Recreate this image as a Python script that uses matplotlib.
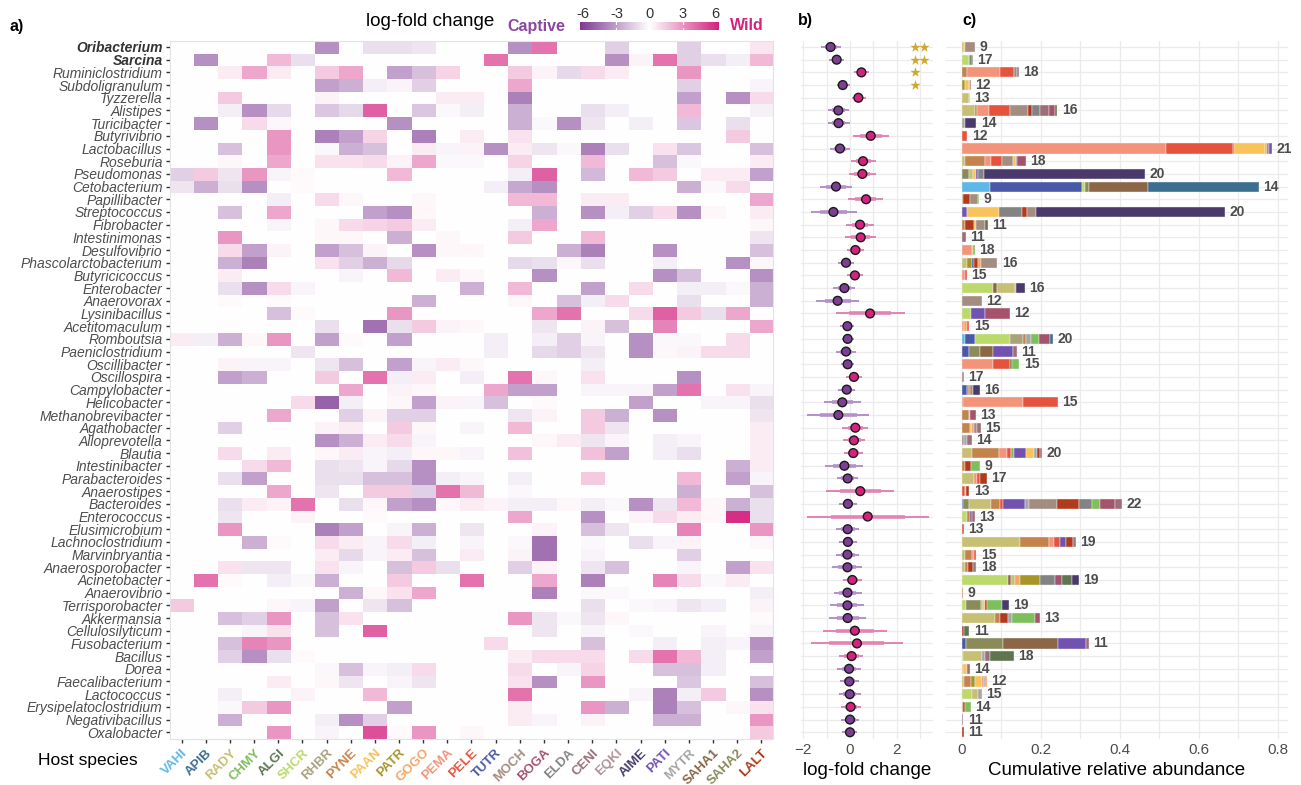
import numpy as np
import matplotlib
matplotlib.use("Agg")
import matplotlib.pyplot as plt
from matplotlib.colors import LinearSegmentedColormap, TwoSlopeNorm

plt.rcParams['font.family'] = ['Liberation Sans', 'DejaVu Sans']

W, H = 1301, 785

# ---------------------------------------------------------------- #
# Host species (heatmap columns) and their colours
hosts = ["VAHI", "APIB", "RADY", "CHMY", "ALGI", "SHCR", "RHBR", "PYNE",
         "PAAN", "PATR", "GOGO", "PEMA", "PELE", "TUTR", "MOCH", "BOGA",
         "ELDA", "CENI", "EQKI", "AIME", "PATI", "MYTR", "SAHA1", "SAHA2",
         "LALT"]
host_colors = ["#5BB8E8", "#3C6E8F", "#C7BF73", "#7DBF5A", "#5E7550",
               "#BCD96B", "#A9A27D", "#C4834C", "#F8C35A", "#A8952A",
               "#F6A564", "#F3937A", "#E5533D", "#4A59A7", "#A38C80",
               "#A5536D", "#838383", "#9C6E78", "#B0949A", "#4A3A6C",
               "#7152B1", "#A5A5A5", "#8C6646", "#8B8B5A", "#B23A1C"]

# Bacterial genera (rows, top to bottom)
genera = ["Oribacterium", "Sarcina", "Ruminiclostridium", "Subdoligranulum",
          "Tyzzerella", "Alistipes", "Turicibacter", "Butyrivibrio",
          "Lactobacillus", "Roseburia", "Pseudomonas", "Cetobacterium",
          "Papillibacter", "Streptococcus", "Fibrobacter", "Intestinimonas",
          "Desulfovibrio", "Phascolarctobacterium", "Butyricicoccus",
          "Enterobacter", "Anaerovorax", "Lysinibacillus", "Acetitomaculum",
          "Romboutsia", "Paeniclostridium", "Oscillibacter", "Oscillospira",
          "Campylobacter", "Helicobacter", "Methanobrevibacter",
          "Agathobacter", "Alloprevotella", "Blautia", "Intestinibacter",
          "Parabacteroides", "Anaerostipes", "Bacteroides", "Enterococcus",
          "Elusimicrobium", "Lachnoclostridium", "Marvinbryantia",
          "Anaerosporobacter", "Acinetobacter", "Anaerovibrio",
          "Terrisporobacter", "Akkermansia", "Cellulosilyticum",
          "Fusobacterium", "Bacillus", "Dorea", "Faecalibacterium",
          "Lactococcus", "Erysipelatoclostridium", "Negativibacillus",
          "Oxalobacter"]
bold_genera = ["Oribacterium", "Sarcina"]

# a) per-host log-fold change (wild vs captive), {host column: value}
lfc_cells = [
    {6: -3.5, 8: -1, 9: -1, 10: -0.8, 14: -3.5, 15: 4, 18: -1.5, 21: -1.5, 24: 0.7},
    {1: -3.5, 4: 2, 5: -1, 13: 4, 18: -3.5, 19: 0.3, 20: 4, 21: -1.5, 22: -1, 23: -0.5, 24: 2},
    {2: 0.5, 3: 2.5, 4: 0.5, 6: 1.5, 7: 2.5, 9: -3, 10: -2, 11: 1.2, 14: 1.5, 15: 0.3, 16: -1.2, 17: 1, 18: 0.5, 21: 3},
    {6: -3, 7: -2.5, 8: -0.5, 9: -0.3, 10: -1.5, 14: 2.5, 21: -1.5, 24: -0.3},
    {2: 1.5, 6: 0.3, 11: 0.5, 12: 0.5, 14: -4, 21: -3, 23: -3.5, 24: 1},
    {2: -0.5, 3: -3.5, 4: -1.2, 6: -1.8, 7: -1.2, 8: 4.5, 10: -1.8, 11: -0.2, 12: -0.5, 14: -2.5, 17: -1, 18: -0.5, 21: 2, 24: -0.4},
    {1: -3.5, 3: 1, 4: 0.2, 9: -3.5, 14: -2.5, 15: -0.2, 16: -3.5, 17: -0.8, 19: -0.5, 21: -1.8, 23: -1},
    {4: 3, 6: -4, 7: -3, 8: 1.2, 10: -4, 12: 0.5, 14: 0.8, 23: 1.5},
    {2: -2, 4: 3, 6: -0.2, 7: -2.5, 8: -2, 10: 0.5, 11: -0.3, 12: 0.3, 13: -3.5, 14: 0.5, 15: -0.8, 16: -0.2, 17: -4, 18: -1, 20: 0.8, 21: -1.8, 24: -2},
    {2: 0.2, 4: 2.5, 6: 0.8, 7: 0.8, 8: 1, 9: 0.3, 10: 2.5, 11: -0.2, 12: -0.2, 14: 1.2, 17: 2, 20: -2, 21: -0.2, 24: 0.5},
    {0: -1.5, 1: 1.5, 2: -0.8, 3: 3, 4: -0.3, 5: 0.1, 9: 2, 14: -0.5, 15: 4.5, 17: -2.2, 19: 2, 20: 1.5, 22: 0.5, 23: 0.5, 24: -3},
    {0: -0.8, 1: -2.5, 2: -1, 3: -3.5, 5: 0.1, 13: -0.5, 14: -2.8, 15: -3.5, 21: -2.5, 22: -0.2, 23: 1},
    {4: -0.5, 6: 1, 7: 0.2, 10: 0.2, 14: 2, 15: 2, 17: 0.5, 18: 0.5, 24: 2.5},
    {2: -2, 4: 2.5, 8: -3, 9: -3.5, 10: 0.2, 15: -2.5, 17: -3.5, 18: -0.5, 19: -1.5, 20: 1, 21: -3.5, 22: 0.2, 24: 0.5},
    {4: -0.3, 6: 0.2, 7: 1, 8: 1.2, 9: 1.5, 10: 0.5, 14: -0.5, 15: 2.5, 24: 0.2},
    {2: 3, 6: 0.2, 7: 0.2, 9: -2.5, 11: 0.2, 14: 1.5, 17: 2, 24: -0.8},
    {2: 1, 3: -3, 4: 0.3, 6: -3, 7: -2, 8: 0.3, 10: -3.5, 11: 0.2, 12: 0.2, 16: -2.5, 17: -4, 20: -3.5, 24: -2},
    {2: -2.5, 3: -4, 6: 0.8, 7: -1.5, 8: -2.5, 9: -1.2, 14: -1.2, 15: -1, 16: 0.2, 17: -1, 20: -0.5, 23: -3.5, 24: 0.2},
    {2: 0.5, 7: -0.3, 9: 2, 11: 0.5, 12: 0.2, 15: -3.5, 20: -3.5, 21: -2, 24: -3.5},
    {2: -1, 3: -3.5, 4: 1, 5: -0.3, 12: -2.5, 14: 2, 17: -3, 19: 1, 21: -0.5, 22: -0.5, 23: -0.2, 24: -2.5},
    {2: 0.1, 4: 0.1, 10: -2.5, 14: 0.2, 16: -2, 17: -0.5, 18: 1, 21: -1, 24: -2.5},
    {4: -2, 5: 0.1, 9: 3, 15: 2.5, 16: 4, 19: 1, 20: 4.5, 21: 1.5, 22: -1, 23: 2.5},
    {6: -1, 8: -4.5, 9: -1, 10: 1.5, 11: 0.3, 12: 0.2, 15: -0.8, 17: 0.3, 18: -2, 20: 3.5, 24: 2.5},
    {0: 0.5, 1: -0.5, 2: -2.5, 3: 0.2, 4: 3, 6: -3, 7: 0.1, 9: -3, 13: -0.5, 15: -0.5, 16: -1.5, 17: -0.3, 19: -3.5, 20: -0.2, 21: -0.2, 23: 1},
    {5: -0.8, 13: -0.5, 15: -1.2, 16: -1.5, 17: -0.8, 19: -3.5, 20: 0.2, 21: 0.3, 22: 1, 23: 1},
    {2: 0.3, 3: -0.3, 4: -0.3, 6: -0.8, 7: -2, 9: -3, 10: -0.3, 11: 0.5, 12: 0.2, 17: -0.5},
    {2: -3, 3: -2.5, 6: 1.5, 8: 4, 9: -0.5, 10: 0.5, 12: -0.5, 14: 4, 15: 0.2, 17: 0.8, 21: -3.5},
    {7: 2.5, 9: 0.3, 10: 0.2, 13: 2.5, 14: -3, 15: -3, 17: -0.3, 18: -0.3, 19: -0.3, 20: -3, 21: 4, 23: 0.8, 24: -0.3},
    {5: 1, 6: -5, 7: -0.5, 9: 0.2, 10: -3, 11: 0.3, 12: -0.3, 13: -2, 15: 0.1, 19: -3, 22: -0.3, 23: -0.3, 24: -1},
    {4: 2.5, 7: -1.5, 8: 0.3, 9: -1.5, 10: -1.5, 14: -0.8, 15: 0.3, 17: 1.5, 18: -2.5, 20: -3.5, 24: -0.8},
    {2: -1.5, 6: 0.3, 7: 0.5, 9: 1.5, 10: 0.2, 12: -0.3, 14: 2, 17: 1.5, 18: -0.8, 24: 0.5},
    {6: -3.5, 7: -2.5, 8: 0.5, 9: 1, 10: -0.3, 15: 0.2, 16: 0.5, 17: -0.8, 18: -0.3, 20: -0.5, 21: -0.3, 24: 0.5},
    {2: 1, 4: 0.5, 6: 0.2, 7: 0.5, 8: -0.3, 9: -0.5, 10: 0.2, 11: 0.2, 12: -0.3, 14: 1.8, 17: 1.8, 18: -3, 20: -0.5, 21: -1, 24: 0.5},
    {3: 1, 4: 2, 6: -1, 7: -0.8, 8: -0.3, 9: -1.2, 10: -3.5, 23: -2.5, 24: 0.5},
    {2: -1, 3: -3, 6: -1, 7: -1, 8: -2, 9: -2, 10: -3.5, 11: -0.5, 12: -0.3, 14: -0.5, 17: 1.5, 21: 2, 23: -3, 24: -0.3},
    {4: 2.5, 6: -0.8, 8: 1.5, 9: 1.5, 10: -1.5, 11: 4, 12: 2, 14: -0.2, 21: -2.5, 24: -2},
    {2: -1, 3: 0.5, 4: 0.3, 5: 4, 7: -1, 8: 0.2, 9: -3, 10: -3.5, 11: 0.2, 12: 0.5, 13: 0.3, 14: -0.5, 15: -0.5, 16: 0.2, 17: -0.5, 18: -0.2, 19: -3.5, 20: -0.8, 21: 2, 22: 0.2, 23: -2.5, 24: -1},
    {2: -0.8, 5: 0.3, 8: 0.1, 14: 2.5, 17: -3.5, 19: 0.3, 20: 1, 21: 0.5, 22: 0.2, 23: 6, 24: -1},
    {2: 3, 6: -4, 7: -3, 9: -0.3, 10: -2.5, 12: -0.8, 15: 0.3, 17: -2, 18: -0.8, 21: 3.5, 24: 3},
    {3: -2.5, 4: 0.1, 6: 1, 7: 0.5, 8: -0.3, 9: 1, 10: -0.5, 12: -0.3, 14: -0.2, 15: -4.5, 17: -0.2, 19: -1, 20: -0.3, 21: 0.3, 24: 0.2},
    {6: 0.5, 7: -1.2, 8: -0.3, 9: 0.5, 10: -2, 12: 0.5, 14: 0.3, 15: -4.5, 17: -0.3, 21: -1.5},
    {2: 0.8, 3: -0.8, 4: -0.8, 6: 0.8, 7: -0.3, 9: -2, 10: 1.5, 11: -1, 14: -1.5, 15: 0.3, 17: -0.8, 18: -2, 21: -0.3, 23: -3, 24: 0.8},
    {1: 4, 2: 0.1, 4: -0.5, 5: -0.2, 6: -2.5, 9: 1.5, 12: 4, 15: 2.5, 17: -4, 20: 3.5, 21: 1, 22: -0.2, 23: 0.5},
    {7: -2.5, 8: 0.2, 9: 0.8, 10: 2.5, 15: -4, 17: -0.2, 18: -0.2, 24: -0.5},
    {0: 1.5, 4: 0.2, 5: -0.3, 6: -3, 8: -0.8, 9: -2, 17: -1, 19: -0.2, 20: -0.3, 21: -0.8, 22: -0.5, 24: 0.3},
    {2: -2, 3: -1.5, 4: 3, 6: -2, 7: 0.8, 14: 3, 15: -0.8, 16: -0.2, 17: -0.8, 18: 0.2, 24: 0.1},
    {3: -0.3, 4: 0.8, 6: -2, 8: 4.5, 15: -0.8, 17: -0.3, 19: -0.2, 22: -0.3, 24: -0.3},
    {2: -2, 3: 3.5, 4: 3, 13: 1, 17: -2, 20: -0.5, 22: -0.5, 23: -0.3, 24: -3.5},
    {2: -1.5, 3: -3.5, 4: -1, 5: 0.1, 14: 0.5, 15: 1, 16: 1, 17: 1, 19: 1, 20: 4, 21: 2, 22: -0.5, 24: -3},
    {6: -0.2, 7: -2, 8: -0.3, 9: -0.5, 10: 1, 14: 1, 16: -0.3, 17: 1.2, 20: -2, 21: -2, 22: -0.5},
    {4: 0.5, 6: 0.2, 7: -0.8, 9: -0.3, 10: -0.8, 14: 0.8, 15: -3.5, 17: 3, 21: -1.8, 24: -2},
    {2: -0.5, 5: 0.3, 8: 2, 14: 4, 19: -0.3, 20: -4, 21: -0.5, 22: 1.5, 24: -3.5},
    {2: -0.2, 3: 1.5, 4: 3, 9: -3, 14: 0.5, 17: 3, 18: -2.5, 20: -4, 21: -2, 23: 0.2, 24: 0.8},
    {2: -2.5, 6: -0.5, 7: -3.5, 8: -1.5, 14: 0.5, 15: -0.3, 17: 0.3, 20: -2.5, 21: -2.5, 24: 3},
    {4: 3, 6: -0.3, 8: 5, 9: 0.1, 10: 3, 12: 0.2, 24: 1.5},
]

# b) pooled log-fold change with interval
lfc_mean = [-0.83, -0.57, 0.49, -0.31, 0.36, -0.50, -0.49, 0.89, -0.43, 0.56,
            0.53, -0.60, 0.69, -0.71, 0.43, 0.46, 0.23, -0.17, 0.21, -0.24,
            -0.53, 0.86, -0.11, -0.10, -0.17, -0.10, 0.17, -0.14, -0.33, -0.50,
            0.23, 0.17, 0.14, -0.24, -0.10, 0.44, -0.09, 0.76, -0.10, -0.09,
            -0.11, -0.11, 0.10, -0.11, -0.11, -0.10, 0.21, 0.30, 0.07, -0.04,
            -0.03, -0.01, 0.03, 0.00, 0.00]
lfc_low = [-1.26, -0.89, 0.17, -0.57, 0.07, -0.96, -0.96, 0.11, -0.86, 0.03,
           -0.03, -1.29, -0.07, -1.69, -0.17, -0.20, -0.14, -0.53, -0.14, -0.71,
           -1.46, -0.61, -0.43, -0.36, -0.61, -0.39, -0.17, -0.50, -1.10, -1.83,
           -0.33, -0.29, -0.26, -1.07, -0.57, -1.03, -0.46, -1.83, -0.60, -0.46,
           -0.60, -0.76, -0.31, -0.69, -0.86, -0.89, -1.14, -1.67, -0.46, -0.54,
           -0.43, -0.47, -0.39, -0.39, -0.33]
lfc_high = [-0.39, -0.24, 0.83, 0.00, 0.69, -0.03, 0.00, 1.69, 0.00, 1.11,
            1.11, 0.09, 1.43, 0.29, 1.03, 1.10, 0.60, 0.17, 0.57, 0.21,
            0.40, 2.36, 0.17, 0.17, 0.26, 0.17, 0.51, 0.21, 0.47, 0.83,
            0.79, 0.64, 0.57, 0.57, 0.36, 1.90, 0.31, 3.40, 0.40, 0.31,
            0.40, 0.51, 0.51, 0.50, 0.61, 0.69, 1.57, 2.26, 0.57, 0.47,
            0.40, 0.46, 0.46, 0.40, 0.31]
signif_stars = [2, 2, 1, 1]

# c) relative abundance per host (stacked) and number of hosts carrying the genus
abund_segments = [
    [("PATR", 0.003), ("PAAN", 0.006), ("MOCH", 0.024)],
    [("SHCR", 0.017), ("SAHA1", 0.005), ("ALGI", 0.003), ("ELDA", 0.003)],
    [("PYNE", 0.013), ("PEMA", 0.084), ("PELE", 0.034), ("MOCH", 0.009), ("ELDA", 0.005)],
    [("PATR", 0.007), ("PAAN", 0.010), ("PEMA", 0.004), ("CENI", 0.003)],
    [("RADY", 0.019), ("PAAN", 0.002)],
    [("RADY", 0.034), ("PYNE", 0.004), ("PEMA", 0.030), ("PELE", 0.053), ("MOCH", 0.046),
     ("LALT", 0.011), ("ELDA", 0.019), ("CENI", 0.024), ("BOGA", 0.014), ("ALGI", 0.007)],
    [("MYTR", 0.007), ("AIME", 0.030)],
    [("PELE", 0.014)],
    [("PEMA", 0.517), ("PELE", 0.170), ("TUTR", 0.003), ("PAAN", 0.079), ("GOGO", 0.005),
     ("ELDA", 0.005), ("PATI", 0.007)],
    [("RADY", 0.009), ("PYNE", 0.050), ("PEMA", 0.014), ("PELE", 0.030), ("MOCH", 0.027),
     ("PAAN", 0.007), ("ELDA", 0.003), ("BOGA", 0.022)],
    [("SAHA2", 0.019), ("RADY", 0.010), ("PAAN", 0.007), ("PATI", 0.006), ("ELDA", 0.013),
     ("AIME", 0.409)],
    [("VAHI", 0.072), ("TUTR", 0.232), ("SHCR", 0.008), ("SAHA2", 0.011), ("SAHA1", 0.149),
     ("APIB", 0.281)],
    [("PYNE", 0.004), ("LALT", 0.017), ("MOCH", 0.019), ("CHMY", 0.004)],
    [("PATI", 0.013), ("PAAN", 0.080), ("ELDA", 0.059), ("LALT", 0.014), ("MOCH", 0.022),
     ("AIME", 0.478)],
    [("PYNE", 0.008), ("LALT", 0.024), ("PAAN", 0.004), ("MOCH", 0.023), ("ALGI", 0.007)],
    [("CENI", 0.010)],
    [("PEMA", 0.025), ("GOGO", 0.003), ("CHMY", 0.006)],
    [("RADY", 0.013), ("PATR", 0.013), ("TUTR", 0.006), ("LALT", 0.008), ("GOGO", 0.008),
     ("MOCH", 0.042)],
    [("PEMA", 0.007), ("PELE", 0.006)],
    [("SHCR", 0.080), ("SAHA1", 0.008), ("RADY", 0.046), ("MYTR", 0.004), ("AIME", 0.021)],
    [("MOCH", 0.051)],
    [("SHCR", 0.023), ("PATI", 0.036), ("BOGA", 0.062)],
    [("PEMA", 0.006), ("GOGO", 0.007), ("PELE", 0.006)],
    [("VAHI", 0.008), ("TUTR", 0.025), ("SHCR", 0.089), ("RHBR", 0.032), ("PYNE", 0.008),
     ("MYTR", 0.014), ("CHMY", 0.019), ("BOGA", 0.028), ("APIB", 0.008)],
    [("TUTR", 0.017), ("SAHA2", 0.028), ("SAHA1", 0.035), ("PATI", 0.049), ("CENI", 0.010)],
    [("PEMA", 0.080), ("PELE", 0.042), ("SAHA1", 0.005), ("CHMY", 0.019)],
    [("MOCH", 0.006)],
    [("TUTR", 0.014), ("PYNE", 0.005), ("PATI", 0.003), ("MOCH", 0.007), ("AIME", 0.017)],
    [("PYNE", 0.003), ("PEMA", 0.152), ("PELE", 0.089)],
    [("PYNE", 0.017), ("GOGO", 0.004), ("BOGA", 0.015)],
    [("PYNE", 0.021), ("PAAN", 0.006), ("PEMA", 0.005), ("MOCH", 0.006), ("CENI", 0.010)],
    [("MOCH", 0.006), ("MYTR", 0.007), ("CENI", 0.013)],
    [("RADY", 0.025), ("PYNE", 0.068), ("PEMA", 0.021), ("PELE", 0.011), ("CHMY", 0.006),
     ("PATI", 0.032), ("PAAN", 0.021), ("MYTR", 0.007), ("LALT", 0.008), ("CENI", 0.005)],
    [("PYNE", 0.007), ("LALT", 0.017), ("CHMY", 0.023)],
    [("RADY", 0.032), ("PEMA", 0.006), ("PELE", 0.008), ("LALT", 0.018)],
    [("PELE", 0.007), ("PAAN", 0.004), ("LALT", 0.008)],
    [("TUTR", 0.004), ("SAHA2", 0.015), ("RADY", 0.055), ("PYNE", 0.023), ("PELE", 0.008),
     ("PATI", 0.055), ("MYTR", 0.011), ("MOCH", 0.071), ("LALT", 0.055), ("ELDA", 0.032),
     ("CHMY", 0.021), ("BOGA", 0.039), ("CENI", 0.017)],
    [("SHCR", 0.013), ("PYNE", 0.007), ("PATI", 0.006), ("CENI", 0.007)],
    [("PELE", 0.005)],
    [("RADY", 0.148), ("PYNE", 0.072), ("PEMA", 0.013), ("PELE", 0.015), ("PATI", 0.017),
     ("LALT", 0.017), ("ELDA", 0.006)],
    [("RADY", 0.007), ("PYNE", 0.019), ("PEMA", 0.004), ("PELE", 0.007)],
    [("RADY", 0.007), ("PYNE", 0.008), ("LALT", 0.014), ("ELDA", 0.008)],
    [("SHCR", 0.118), ("SAHA1", 0.006), ("RADY", 0.011), ("GOGO", 0.013), ("PATR", 0.049),
     ("ELDA", 0.040), ("BOGA", 0.017), ("ALGI", 0.025), ("AIME", 0.017)],
    [("PYNE", 0.004)],
    [("SHCR", 0.011), ("SAHA2", 0.038), ("RADY", 0.004), ("PAAN", 0.006), ("LALT", 0.006),
     ("CHMY", 0.036), ("AIME", 0.019)],
    [("RADY", 0.083), ("PYNE", 0.014), ("LALT", 0.019), ("MYTR", 0.010), ("CHMY", 0.059),
     ("BOGA", 0.013)],
    [("LALT", 0.006), ("ALGI", 0.013)],
    [("TUTR", 0.010), ("SAHA2", 0.095), ("SAHA1", 0.138), ("PATI", 0.071), ("CENI", 0.008)],
    [("SHCR", 0.004), ("RADY", 0.048), ("MYTR", 0.008), ("CENI", 0.011), ("ALGI", 0.061)],
    [("GOGO", 0.004), ("PAAN", 0.008), ("CENI", 0.008)],
    [("RADY", 0.006), ("PYNE", 0.017), ("PATR", 0.011), ("PAAN", 0.017), ("PEMA", 0.004),
     ("ELDA", 0.003), ("GOGO", 0.006)],
    [("SHCR", 0.027), ("RADY", 0.013), ("MYTR", 0.010)],
    [("PYNE", 0.004), ("LALT", 0.004), ("CHMY", 0.015)],
    [("CENI", 0.004)],
    [("LALT", 0.005)],
]
n_hosts = [9, 17, 18, 12, 13, 16, 14, 12, 21, 18, 20, 14, 9, 20, 11, 11, 18, 16,
           15, 16, 12, 12, 15, 20, 11, 15, 17, 16, 15, 13, 15, 14, 20, 9, 17, 13,
           22, 13, 13, 19, 15, 18, 19, 9, 19, 13, 11, 11, 18, 14, 12, 15, 14, 11, 11]

# ---------------------------------------------------------------- #
CAPTIVE = "#8B46A0"
WILD = "#D4237F"
GRID = "#EBEBEB"
TXT = "#4D4D4D"

n_rows, n_cols = len(genera), len(hosts)
lfc_mat = np.zeros((n_rows, n_cols))
for i, row in enumerate(lfc_cells):
    for j, v in row.items():
        lfc_mat[i, j] = v

cmap = LinearSegmentedColormap.from_list("lfc", ["#7E3A93", "#FFFFFF", WILD])
norm = TwoSlopeNorm(vmin=-6.3, vcenter=0, vmax=6.3)

fig = plt.figure(figsize=(W / 100, H / 100), dpi=100)


def add_ax(x0, y0, x1, y1):
    # axes placed by pixel box (top-left origin)
    return fig.add_axes([x0 / W, 1 - y1 / H, (x1 - x0) / W, (y1 - y0) / H])


def ftext(x, y, s, **kw):
    fig.text(x / W, 1 - y / H, s, **kw)


TOP, BOT = 40.65, 738.6

# ---- a) heatmap
ax_a = add_ax(169.6, TOP, 773.4, BOT)
ax_a.imshow(lfc_mat, cmap=cmap, norm=norm, aspect="auto", interpolation="nearest")
ax_a.set_yticks(range(n_rows))
ax_a.set_yticklabels(genera)
for lab in ax_a.get_yticklabels():
    bold = lab.get_text() in bold_genera
    lab.set_fontstyle("italic")
    lab.set_fontsize(10)
    lab.set_fontweight("bold" if bold else "normal")
    lab.set_color("#333333" if bold else TXT)
ax_a.set_xticks(range(n_cols))
ax_a.set_xticklabels(hosts, rotation=45, ha="right", va="top", rotation_mode="anchor",
                     fontsize=9.5, fontweight="bold")
for lab, c in zip(ax_a.get_xticklabels(), host_colors):
    lab.set_color(c)
ax_a.tick_params(axis="both", length=3, width=1, color="#333333")
ax_a.tick_params(axis="y", pad=2)
ax_a.tick_params(axis="x", pad=3)
for s in ax_a.spines.values():
    s.set_color("#E3E3E3")
    s.set_linewidth(0.8)

# colour legend
ax_cb = add_ax(580, 22, 719, 30)
grad = np.linspace(-6.3, 6.3, 300)[None, :]
ax_cb.imshow(grad, cmap=cmap, norm=norm, aspect="auto", extent=(-6.3, 6.3, 0, 1))
for t in (-3, 0, 3):
    ax_cb.plot([t, t], [0, 0.25], color="white", lw=0.8)
    ax_cb.plot([t, t], [0.75, 1], color="white", lw=0.8)
ax_cb.set_xlim(-6.3, 6.3)
ax_cb.set_ylim(0, 1)
ax_cb.xaxis.tick_top()
ax_cb.set_xticks([-6, -3, 0, 3, 6])
ax_cb.set_xticklabels(["-6", "-3", "0", "3", "6"])
ax_cb.tick_params(axis="x", length=0, pad=1, labelsize=10.5, labelcolor="#333333")
ax_cb.set_yticks([])
for s in ax_cb.spines.values():
    s.set_visible(False)

ftext(430, 22, "log-fold change", fontsize=13.5, ha="center", va="center")
ftext(536, 26, "Captive", fontsize=11.5, fontweight="bold", color=CAPTIVE, ha="center", va="center")
ftext(747, 26, "Wild", fontsize=11.5, fontweight="bold", color=WILD, ha="center", va="center")
ftext(88, 760, "Host species", fontsize=12.5, ha="center", va="center")

# ---- b) pooled log-fold change
ax_b = add_ax(801, TOP, 933, BOT)
ax_b.set_xlim(-2.1, 3.56)
ax_b.set_ylim(n_rows - 0.5, -0.5)
for x in np.arange(-2, 4):
    ax_b.axvline(x, color=GRID, lw=0.9, zorder=0)
for r in range(n_rows):
    ax_b.axhline(r, color=GRID, lw=0.9, zorder=0)
rows = np.arange(n_rows)
mean = np.array(lfc_mean)
lo = np.array(lfc_low)
hi = np.array(lfc_high)
is_wild = mean > 0
bar_cols = np.where(is_wild, "#E383B3", "#B590CB")
pt_cols = np.where(is_wild, WILD, "#7D3F93")
ax_b.hlines(rows, lo, hi, colors=bar_cols, lw=1.4, zorder=2)
ax_b.hlines(rows, mean - 0.6 * (mean - lo), mean + 0.6 * (hi - mean), colors=bar_cols,
            lw=2.6, zorder=2)
ax_b.scatter(mean, rows, s=40, c=pt_cols, edgecolors="#1A1A1A", linewidths=1.0, zorder=3)
for r, n in enumerate(signif_stars):
    for k in range(n):
        ax_b.scatter(2.79 + 0.38 * k, r, marker="*", s=60, color="#CDA92E", lw=0, zorder=3)
ax_b.set_yticks([])
ax_b.set_xticks([-2, 0, 2])
ax_b.tick_params(axis="x", length=0, pad=3, labelsize=11, labelcolor=TXT)
ax_b.set_xlabel("log-fold change", fontsize=13.5, labelpad=4)
for s in ax_b.spines.values():
    s.set_visible(False)

# ---- c) cumulative relative abundance
ax_c = add_ax(946, TOP, 1288, BOT)
ax_c.set_xlim(-0.04, 0.826)
ax_c.set_ylim(n_rows - 0.5, -0.5)
for x in np.arange(0, 0.81, 0.1):
    ax_c.axvline(x, color=GRID, lw=0.9, zorder=0)
for r in range(n_rows):
    ax_c.axhline(r, color=GRID, lw=0.9, zorder=0)
color_of = dict(zip(hosts, host_colors))
for r, segs in enumerate(abund_segments):
    left = 0.0
    for host, val in segs:
        ax_c.barh(r, val, left=left, height=0.8, color=color_of[host],
                  edgecolor="#F4F4F4", linewidth=0.3, zorder=2)
        left += val
    ax_c.text(left + 0.011, r, str(n_hosts[r]), fontsize=10, fontweight="bold",
              color=TXT, va="center", ha="left", zorder=3)
ax_c.set_yticks([])
ax_c.set_xticks([0, 0.2, 0.4, 0.6, 0.8])
ax_c.set_xticklabels(["0", "0.2", "0.4", "0.6", "0.8"])
ax_c.tick_params(axis="x", length=0, pad=3, labelsize=11, labelcolor=TXT)
ax_c.set_xlabel("Cumulative relative abundance", fontsize=13.5, labelpad=4)
for s in ax_c.spines.values():
    s.set_visible(False)

# panel letters
ftext(17, 27, "a)", fontsize=11.5, fontweight="bold", ha="center", va="center")
ftext(805, 20, "b)", fontsize=11.5, fontweight="bold", ha="center", va="center")
ftext(969, 20, "c)", fontsize=11.5, fontweight="bold", ha="center", va="center")

fig.savefig("out.png", dpi=100)
